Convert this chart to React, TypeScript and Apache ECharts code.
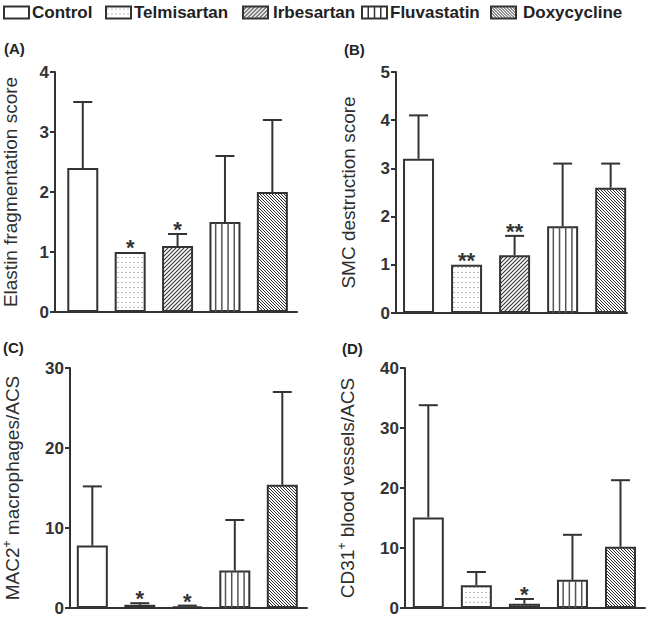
import React, { useEffect, useRef } from 'react';
import * as echarts from 'echarts';

// ---------------- data ----------------
const GROUPS = ['Control', 'Telmisartan', 'Irbesartan', 'Fluvastatin', 'Doxycycline'];

const elastinMean = [2.4, 1.0, 1.1, 1.5, 2.0];
const elastinErrTop = [3.5, 1.0, 1.3, 2.6, 3.2];
const elastinSig = ['', '*', '*', '', ''];

const smcMean = [3.2, 1.0, 1.2, 1.8, 2.6];
const smcErrTop = [4.1, 1.0, 1.6, 3.1, 3.1];
const smcSig = ['', '**', '**', '', ''];

const macMean = [7.8, 0.4, 0.2, 4.7, 15.4];
const macErrTop = [15.2, 0.6, 0.3, 11.0, 27.0];
const macSig = ['', '*', '*', '', ''];

const cdMean = [15.1, 3.8, 0.7, 4.7, 10.2];
const cdErrTop = [33.8, 6.0, 1.5, 12.2, 21.3];
const cdSig = ['', '', '*', '', ''];

const elastinTicks = { max: 4, interval: 1 };
const smcTicks = { max: 5, interval: 1 };
const macTicks = { max: 30, interval: 10 };
const cdTicks = { max: 40, interval: 10 };

// ---------------- style ----------------
const FONT = '"Liberation Sans", Arial, Helvetica, sans-serif';
const INK = '#333333';
const BAR_W = 31;

function svgUrl(svg: string) {
  return 'data:image/svg+xml;base64,' + btoa(svg);
}

function dots() {
  return {
    image: svgUrl(
      "<svg xmlns='http://www.w3.org/2000/svg' width='4' height='5'><rect width='4' height='5' fill='#ffffff'/><rect x='1.5' y='2' width='1' height='1' fill='#7a7a7a'/></svg>"
    ),
    repeat: 'repeat',
    imageWidth: 4,
    imageHeight: 5,
  };
}
function fwdHatch() {
  return {
    image: svgUrl(
      "<svg xmlns='http://www.w3.org/2000/svg' width='4' height='4'><rect width='4' height='4' fill='#ffffff'/><path d='M-1,1 L1,-1 M0,4 L4,0 M3,5 L5,3' stroke='#333333' stroke-width='1.1'/></svg>"
    ),
    repeat: 'repeat',
    imageWidth: 4,
    imageHeight: 4,
  };
}
function backHatch() {
  return {
    image: svgUrl(
      "<svg xmlns='http://www.w3.org/2000/svg' width='3' height='3'><rect width='3' height='3' fill='#ffffff'/><path d='M-1,2 L1,4 M0,0 L3,3 M2,-1 L4,1' stroke='#2a2a2a' stroke-width='1'/></svg>"
    ),
    repeat: 'repeat',
    imageWidth: 3,
    imageHeight: 3,
  };
}
function fillFor(j: number): any {
  if (j === 1) return dots();
  if (j === 2) return fwdHatch();
  if (j === 4) return backHatch();
  return '#ffffff';
}
const STRIPED = [false, false, false, true, false];

const panels = [
  {
    label: '(A)', mean: elastinMean, err: elastinErrTop, sig: elastinSig, ticks: elastinTicks,
    name: 'Elastin fragmentation score', nameGap: 35,
    grid: { left: 53, top: 72, width: 244, height: 240 }, xMin: -0.586, xMax: 4.52,
    labelPos: [4, 48.5],
  },
  {
    label: '(B)', mean: smcMean, err: smcErrTop, sig: smcSig, ticks: smcTicks,
    name: 'SMC destruction score', nameGap: 38,
    grid: { left: 396, top: 72, width: 231, height: 241 }, xMin: -0.469, xMax: 4.34,
    labelPos: [344, 49],
  },
  {
    label: '(C)', mean: macMean, err: macErrTop, sig: macSig, ticks: macTicks,
    name: '{n|MAC2}{s|+}{n| macrophages/ACS}', nameGap: 47,
    grid: { left: 67, top: 368, width: 240, height: 240 }, xMin: -0.47, xMax: 4.52,
    labelPos: [3, 347.5],
  },
  {
    label: '(D)', mean: cdMean, err: cdErrTop, sig: cdSig, ticks: cdTicks,
    name: '{n|CD31}{s|+}{n| blood vessels/ACS}', nameGap: 47,
    grid: { left: 405, top: 368, width: 240, height: 240 }, xMin: -0.485, xMax: 4.51,
    labelPos: [342, 348.5],
  },
];

const legendSwatchX = [4, 106, 243, 362, 491];
const legendTextX = [32, 134, 273, 390, 523];

function buildOption(): any {
  const nameRich = {
    n: { fontFamily: FONT, fontSize: 19, color: '#2e2e2e', lineHeight: 22 },
    s: { fontFamily: FONT, fontSize: 12, color: '#2e2e2e', lineHeight: 13, verticalAlign: 'top' },
  };
  const grid = panels.map((p) => ({ ...p.grid }));
  const xAxis = panels.map((p, i) => ({
    type: 'value', gridIndex: i, min: p.xMin, max: p.xMax,
    axisLine: { show: true, onZero: false, lineStyle: { color: INK, width: 2 } },
    axisTick: { show: false }, axisLabel: { show: false }, splitLine: { show: false },
  }));
  const yAxis = panels.map((p, i) => ({
    type: 'value', gridIndex: i, min: 0, max: p.ticks.max, interval: p.ticks.interval,
    axisLine: { show: true, onZero: false, lineStyle: { color: INK, width: 2 } },
    axisTick: { show: true, length: 5, lineStyle: { color: INK, width: 2 } },
    axisLabel: { fontFamily: FONT, fontWeight: 'bold', fontSize: 17, color: INK, margin: 6 },
    splitLine: { show: false },
    name: p.name, nameLocation: 'middle', nameGap: p.nameGap,
    nameTextStyle: { fontFamily: FONT, fontSize: 19, color: '#2e2e2e', rich: nameRich },
  }));
  const series: any[] = [];
  panels.forEach((p, i) => {
    series.push({
      type: 'bar', xAxisIndex: i, yAxisIndex: i, barWidth: BAR_W, z: 2,
      data: p.mean.map((v, j) => ({
        name: GROUPS[j],
        value: [j, v],
        itemStyle: { color: fillFor(j), borderColor: INK, borderWidth: 2 },
      })),
    });
    series.push({
      type: 'custom', xAxisIndex: i, yAxisIndex: i, z: 3,
      data: p.mean.map((v, j) => [j, v, p.err[j]]),
      renderItem: (params: any, api: any) => {
        const j = api.value(0);
        const m = api.value(1);
        const e = api.value(2);
        const base = api.coord([j, 0]);
        const top = api.coord([j, m]);
        const et = api.coord([j, e]);
        const children: any[] = [];
        if (STRIPED[params.dataIndex]) {
          for (let k = 1; k <= 4; k++) {
            const x = base[0] - BAR_W / 2 + (BAR_W * k) / 5;
            children.push({
              type: 'line',
              shape: { x1: x, y1: base[1], x2: x, y2: top[1] + 1 },
              style: { stroke: '#555555', lineWidth: 1.5 },
            });
          }
        }
        if (e > m) {
          children.push({
            type: 'line', shape: { x1: top[0], y1: top[1], x2: et[0], y2: et[1] },
            style: { stroke: INK, lineWidth: 2 },
          });
          children.push({
            type: 'line', shape: { x1: et[0] - 9.5, y1: et[1], x2: et[0] + 9.5, y2: et[1] },
            style: { stroke: INK, lineWidth: 2 },
          });
        }
        const s = p.sig[params.dataIndex];
        if (s) {
          const yTop = Math.min(et[1], top[1]);
          children.push({
            type: 'text',
            style: {
              text: s, x: top[0], y: yTop - 4.5, fill: INK,
              font: `bold 22px ${FONT}`, align: 'center', verticalAlign: 'middle',
            },
          });
        }
        return { type: 'group', children };
      },
    });
  });

  const graphic: any[] = [];
  GROUPS.forEach((g, j) => {
    const sx = legendSwatchX[j];
    graphic.push({
      type: 'rect', x: sx, y: 6.5,
      shape: { x: 0, y: 0, width: 25, height: 12 },
      style: { fill: fillFor(j), stroke: INK, lineWidth: 2 },
      z: 10,
    });
    if (STRIPED[j]) {
      for (let k = 1; k <= 3; k++) {
        graphic.push({
          type: 'line', x: sx, y: 6.5,
          shape: { x1: (25 * k) / 4, y1: 0, x2: (25 * k) / 4, y2: 12 },
          style: { stroke: INK, lineWidth: 1.5 }, z: 11,
        });
      }
    }
    graphic.push({
      type: 'text', x: legendTextX[j], y: 12.5, z: 10,
      style: { text: g, fill: '#222222', font: `bold 17px ${FONT}`, align: 'left', verticalAlign: 'middle' },
    });
  });
  panels.forEach((p) => {
    graphic.push({
      type: 'text', x: p.labelPos[0], y: p.labelPos[1], z: 10,
      style: { text: p.label, fill: '#222222', font: `bold 15px ${FONT}`, align: 'left', verticalAlign: 'middle' },
    });
  });

  return {
    animation: false,
    backgroundColor: '#ffffff',
    grid, xAxis, yAxis, series, graphic,
  };
}

export default function App() {
  const ref = useRef<HTMLDivElement>(null);
  useEffect(() => {
    const chart = echarts.init(ref.current!, null, { renderer: 'svg' });
    chart.setOption(buildOption());
    return () => chart.dispose();
  }, []);
  return (
    <div
      ref={ref}
      style={{ position: 'absolute', left: 0, top: 0, width: 650, height: 618 }}
    />
  );
}
